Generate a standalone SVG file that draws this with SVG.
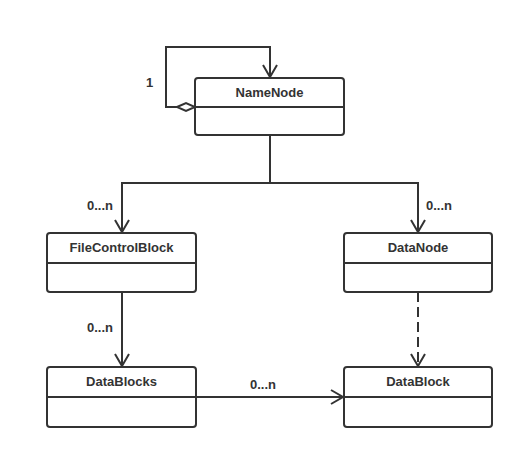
<svg xmlns="http://www.w3.org/2000/svg" width="524" height="459" viewBox="0 0 524 459">
<style>
.box{fill:#fff;stroke:#333;stroke-width:2}
.ln{fill:none;stroke:#333;stroke-width:2}
.t{font-family:"Liberation Sans",Arial,sans-serif;font-weight:bold;font-size:13px;fill:#333;text-anchor:middle}
.lb{font-family:"Liberation Sans",Arial,sans-serif;font-weight:bold;font-size:13px;fill:#333}
</style>
<defs>
<marker id="open" markerWidth="16" markerHeight="16" refX="14" refY="8" orient="auto" markerUnits="userSpaceOnUse">
<path d="M2,1 L14,8 L2,15" fill="none" stroke="#333" stroke-width="2"/>
</marker>
</defs>
<rect width="524" height="459" fill="#fff"/>
<g id="connectors">
<path class="ln" d="M177,107 H166 V47 H270 V77" marker-end="url(#open)"/>
<path d="M177,107 L186,103 L195,107 L186,111 Z" fill="#fff" stroke="#333" stroke-width="2"/>
<path class="ln" d="M270,135 V183 H122 V232" marker-end="url(#open)"/>
<path class="ln" d="M270,183 H418 V232" marker-end="url(#open)"/>
<path class="ln" d="M122,292 V366" marker-end="url(#open)"/>
<path class="ln" d="M418,292 V366" stroke-dasharray="10,5" marker-end="url(#open)"/>
<path class="ln" d="M196,397 H343" marker-end="url(#open)"/>
<text class="lb" x="146" y="87">1</text>
<text class="lb" x="87" y="210">0...n</text>
<text class="lb" x="426" y="210">0...n</text>
<text class="lb" x="87" y="332">0...n</text>
<text class="lb" x="250" y="389">0...n</text>
</g>
<g id="NameNode">
<rect class="box" x="195" y="78" width="149" height="57" rx="3"/>
<line class="ln" x1="195" y1="107" x2="344" y2="107"/>
<text class="t" x="269.5" y="97">NameNode</text>
</g>
<g id="FileControlBlock">
<rect class="box" x="47" y="233" width="149" height="59" rx="3"/>
<line class="ln" x1="47" y1="263" x2="196" y2="263"/>
<text class="t" x="121.5" y="252">FileControlBlock</text>
</g>
<g id="DataNode">
<rect class="box" x="344" y="233" width="148" height="59" rx="3"/>
<line class="ln" x1="344" y1="263" x2="492" y2="263"/>
<text class="t" x="418" y="252">DataNode</text>
</g>
<g id="DataBlocks">
<rect class="box" x="47" y="367" width="149" height="60" rx="3"/>
<line class="ln" x1="47" y1="397" x2="196" y2="397"/>
<text class="t" x="121.5" y="386">DataBlocks</text>
</g>
<g id="DataBlock">
<rect class="box" x="344" y="367" width="148" height="60" rx="3"/>
<line class="ln" x1="344" y1="397" x2="492" y2="397"/>
<text class="t" x="418" y="386">DataBlock</text>
</g>
</svg>
